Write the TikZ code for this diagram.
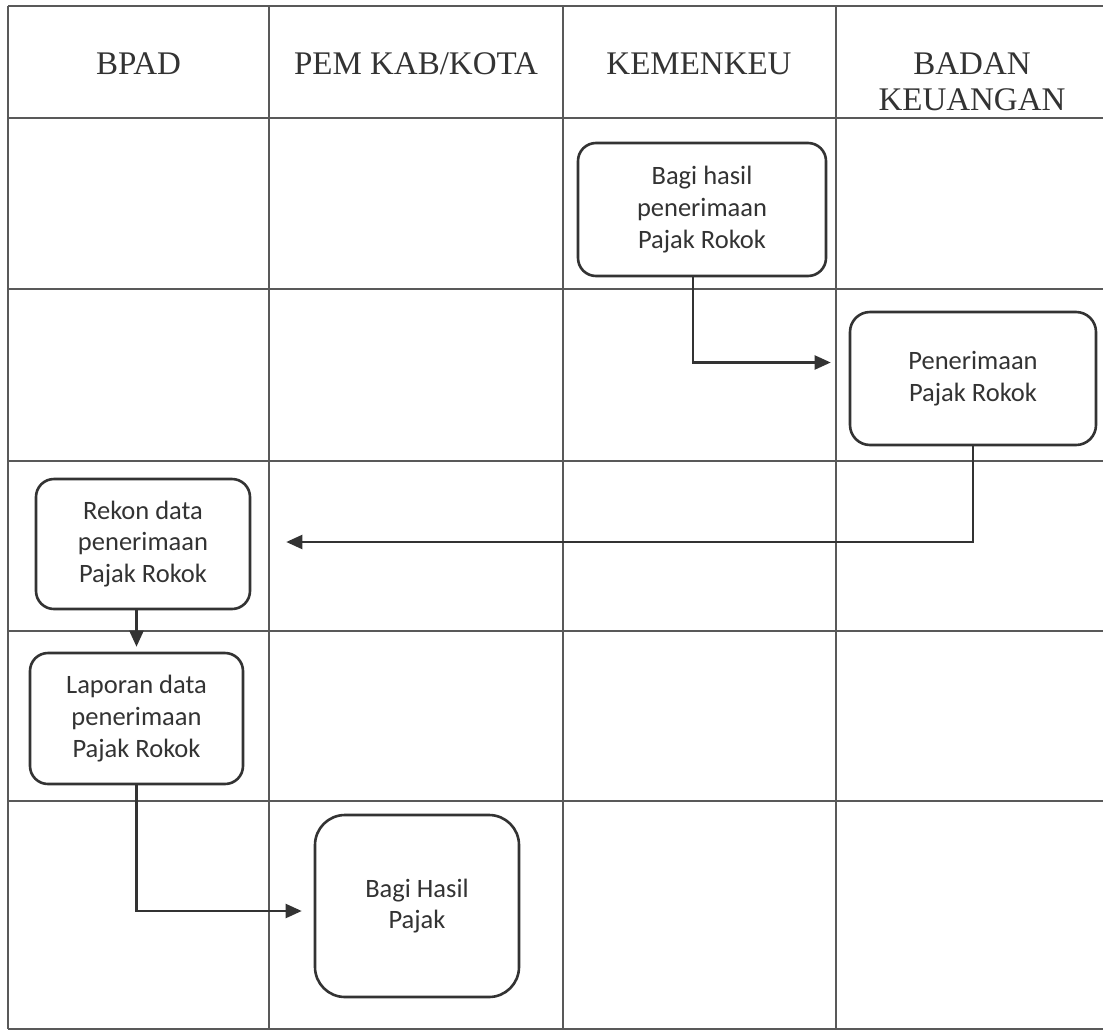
\documentclass[tikz,border=0pt]{standalone}
\usepackage{fontspec}
\setmainfont{Liberation Serif}
\newfontfamily\boxfont{Carlito}
\usetikzlibrary{arrows.meta}
\begin{document}
\begin{tikzpicture}[x=1pt,y=-1pt,
  gridline/.style={draw=black!65, line width=1.3pt},
  proc/.style={draw=black!80, line width=2.6pt, rounded corners=18pt, align=center, inner sep=0pt,
    font=\boxfont\fontsize{26.5}{31.7}\selectfont, text=black!80},
  flow/.style={draw=black!80, line width=2.2pt, -{Triangle[length=16pt,width=14pt]}},
  head/.style={font=\fontsize{33}{36}\selectfont, text=black!80, anchor=base, inner sep=0pt}]
\useasboundingbox (0,0) rectangle (1103,1031);
\fill[white] (0,0) rectangle (1103,1031);
% grid
\foreach \yy in {6,118,289,461,631,801,1029}
  \draw[gridline] (8,\yy) -- (1103,\yy);
\foreach \xx in {8,269,563,836}
  \draw[gridline] (\xx,6) -- (\xx,1029);
% headers
\node[head] (h1) at (138.5,74) {BPAD};
\node[head] (h2) at (416,74) {PEM KAB/KOTA};
\node[head] (h3) at (699,74) {KEMENKEU};
\node[head] (h4a) at (972,74) {BADAN};
\node[head] (h4b) at (972,110) {KEUANGAN};
% process boxes
\node[proc, minimum width=248pt, minimum height=133pt] (A) at (702,209.5) {Bagi hasil\\penerimaan\\Pajak Rokok};
\node[proc, minimum width=246pt, minimum height=133pt, rounded corners=20pt] (B) at (973,378.5) {Penerimaan\\Pajak Rokok};
\node[proc, minimum width=214pt, minimum height=130pt] (C) at (143,544) {Rekon data\\penerimaan\\Pajak Rokok};
\node[proc, minimum width=213pt, minimum height=131pt] (D) at (136.5,718.5) {Laporan data\\penerimaan\\Pajak Rokok};
\node[proc, minimum width=204pt, minimum height=182pt, rounded corners=30pt] (E) at (417,906) {Bagi Hasil\\Pajak};
% connectors
\draw[flow] ([xshift=-9pt]A.south) |- ([xshift=-18pt,yshift=16pt]B.west);
\draw[flow] (B.south) |- ([xshift=35pt,yshift=2pt]C.east);
\draw[flow] (C.south -| D.north) -- ([yshift=5pt]D.north);
\draw[flow] (D.south) |- ([xshift=-12pt,yshift=-5pt]E.west);
\end{tikzpicture}
\end{document}
